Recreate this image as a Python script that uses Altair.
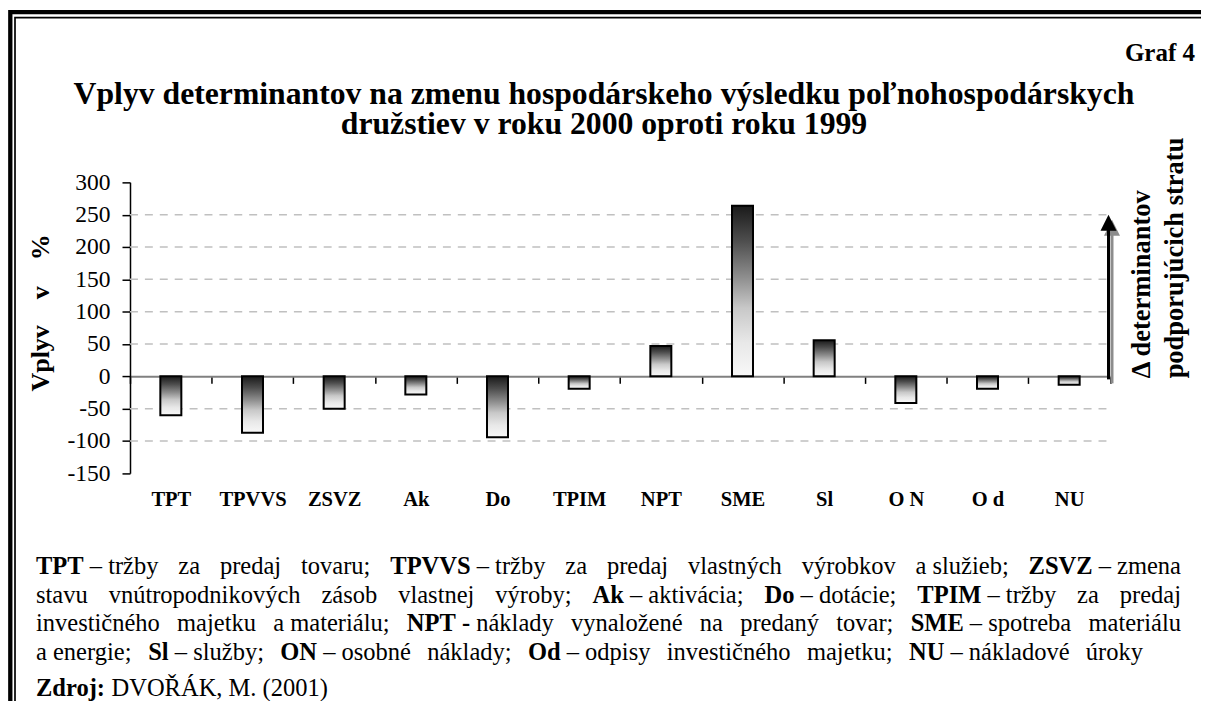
import altair as alt
import pandas as pd

# ---------------- data ----------------
categories = ["TPT", "TPVVS", "ZSVZ", "Ak", "Do", "TPIM", "NPT", "SME", "Sl", "O N", "O d", "NU"]
values = [-60, -87, -50, -28, -94, -19, 47, 264, 56, -41, -19, -13]
y_ticks = [300, 250, 200, 150, 100, 50, 0, -50, -100, -150]
grid_values = [250, 200, 150, 100, 50, -50, -100]
y_domain = [-150, 300]
arrow_from = [0]
arrow_to = [250]

title_lines = [
    "Vplyv determinantov na zmenu hospodárskeho výsledku poľnohospodárskych",
    "družstiev v roku 2000 oproti roku 1999",
]
graf_label = "Graf 4"
NB = "\u00a0"
y_title = f"Vplyv{NB * 4}v{NB * 4}%"
side_lines = ["\u0394 determinantov", "podporujúcich stratu"]
note_lines = [
    f"**TPT**{NB}–{NB}tržby za predaj tovaru; **TPVVS**{NB}–{NB}tržby za predaj vlastných výrobkov a{NB}služieb; **ZSVZ**{NB}–{NB}zmena",
    f"stavu vnútropodnikových zásob vlastnej výroby; **Ak**{NB}–{NB}aktivácia; **Do**{NB}–{NB}dotácie; **TPIM**{NB}–{NB}tržby za predaj",
    f"investičného majetku a{NB}materiálu; **NPT{NB}-**{NB}náklady vynaložené na predaný tovar; **SME**{NB}–{NB}spotreba materiálu",
    f"a{NB}energie; **Sl**{NB}–{NB}služby; **ON**{NB}–{NB}osobné náklady; **Od**{NB}–{NB}odpisy investičného majetku; **NU**{NB}–{NB}nákladové úroky",
]
source_line = f"**Zdroj:**{NB}DVOŘÁK, M. (2001)"

# ---------------- layout ----------------
# The page shrinks the 1201px wide svg into 1193px; work in page pixels and convert.
SERIF = "Liberation Serif"
SC = 1193 / 1201
SVG_W, SVG_H = 1201, 712
PAGE_X0, PAGE_Y0 = 130, 180            # page position of the plot area
PAGE_W, PAGE_H = 980, 291
PAD_L = (PAGE_X0 - 8) / SC
PAD_T = (PAGE_Y0 - 8) / SC
W = PAGE_W / SC
H = PAGE_H / SC
PAD = {"left": PAD_L, "top": PAD_T, "right": SVG_W - PAD_L - W, "bottom": SVG_H - PAD_T - H}


def sx(x):
    return (x - 8) / SC - PAD_L


def sy(y):
    return (y - 8) / SC - PAD_T


def fs(v):
    return v / SC


# Times / Liberation Serif advance widths (1/1000 em)
REG = {' ': 250, NB: 250, 'a': 444, 'b': 500, 'c': 444, 'd': 500, 'e': 444, 'f': 333, 'g': 500,
       'h': 500, 'i': 278, 'j': 278, 'k': 500, 'l': 278, 'm': 778, 'n': 500, 'o': 500, 'p': 500,
       'r': 333, 's': 389, 't': 278, 'u': 500, 'v': 500, 'y': 500, 'z': 444, 'á': 444, 'é': 444,
       'í': 278, 'ó': 500, 'ú': 500, 'ý': 500, 'č': 444, 'ž': 444, 'š': 389, ';': 278, ':': 278,
       ',': 250, '.': 250, '(': 333, ')': 333, '–': 500, '-': 333, 'D': 722, 'V': 722, 'O': 722,
       'Ř': 667, 'Á': 722, 'K': 722, 'M': 889, '0': 500, '1': 500, '2': 500}
BOLD = {' ': 250, NB: 250, 'T': 667, 'P': 611, 'V': 722, 'S': 556, 'Z': 667, 'A': 722, 'k': 556,
        'D': 722, 'o': 500, 'I': 389, 'M': 944, 'N': 722, 'E': 667, 'l': 278, 'O': 778, 'd': 556,
        'U': 722, 'r': 444, 'j': 333, ':': 333, '–': 500, '-': 333}

NOTE_FS = 24.5
NOTE_LEFT = 36
NOTE_RIGHTS = [1181, 1181, 1181, 1143]      # justified right edges of the note lines
NOTE_BASELINES = [572, 600.5, 629, 657.5]
SOURCE_BASELINE = 694


def text_width(s, bold):
    tab = BOLD if bold else REG
    return sum(tab.get(ch, 500) for ch in s) * NOTE_FS / 1000.0


def parse(unit):
    parts = unit.split("**")
    return [(p, i % 2 == 1) for i, p in enumerate(parts) if p]


def layout_line(line, baseline, right=None):
    units = [parse(u) for u in line.split(" ")]
    widths = [sum(text_width(t, b) for t, b in runs) for runs in units]
    gap = 250 * NOTE_FS / 1000.0
    if right is not None and len(units) > 1:
        gap = (right - NOTE_LEFT - sum(widths)) / (len(units) - 1)
    rows = []
    x = NOTE_LEFT
    for runs, w in zip(units, widths):
        xx = x
        for t, b in runs:
            stripped = t.lstrip(NB + " ")
            lead = text_width(t[:len(t) - len(stripped)], b)
            body = stripped.rstrip(NB + " ")
            if body:
                rows.append({"text": body.replace(" ", NB), "x": sx(xx + lead), "y": sy(baseline), "bold": b})
            xx += text_width(t, b)
        x += w + gap
    return rows


note_rows = []
for i, line in enumerate(note_lines):
    note_rows += layout_line(line, NOTE_BASELINES[i], NOTE_RIGHTS[i])
note_rows += layout_line(source_line, SOURCE_BASELINE)
notes = pd.DataFrame(note_rows)
notes_reg = notes[~notes["bold"]]
notes_bold = notes[notes["bold"]]

# ---------------- chart ----------------
bars_df = pd.DataFrame({"cat": categories, "val": values})
grid_df = pd.DataFrame({"g": grid_values})
arrow_df = pd.DataFrame({"y0": arrow_from, "y1": arrow_to})
one = pd.DataFrame({"k": [0]})

y_scale = alt.Scale(domain=y_domain, nice=False, zero=False)
ZERO_OFFSET = -H * (0 - y_domain[0]) / (y_domain[1] - y_domain[0])   # axis moved up to y = 0
X_TICK = fs(7)
X_LABEL_PAD = sy(487.5) - (H + ZERO_OFFSET) - X_TICK

gradient = alt.LinearGradient(
    gradient="linear", x1=0, y1=0, x2=0, y2=1,
    stops=[alt.GradientStop(offset=0, color="#1a1a1a"),
           alt.GradientStop(offset=0.2, color="#4c4c4c"),
           alt.GradientStop(offset=0.42, color="#8e8e8e"),
           alt.GradientStop(offset=0.6, color="#c8c8c8"),
           alt.GradientStop(offset=0.8, color="#e8e8e8"),
           alt.GradientStop(offset=1, color="#f8f8f8")])

frame_outer = alt.Chart(one).mark_rect(fillOpacity=0, stroke="black", strokeWidth=fs(4.3)).encode(
    x=alt.value(sx(10.3)), x2=alt.value(sx(1209.3)), y=alt.value(sy(9.7)), y2=alt.value(sy(780)))
frame_inner = alt.Chart(one).mark_rect(fillOpacity=0, stroke="black", strokeWidth=fs(1.7)).encode(
    x=alt.value(sx(15)), x2=alt.value(sx(1204)), y=alt.value(sy(15.2)), y2=alt.value(sy(780)))

grid = alt.Chart(grid_df).mark_rule(color="#c0c0c0", strokeWidth=fs(1.5), strokeDash=[8, 7]).encode(
    x=alt.value(0), x2=alt.value(W), y=alt.Y("g:Q", scale=y_scale))

bars = alt.Chart(bars_df).mark_bar(fill=gradient, stroke="black", strokeWidth=fs(2), size=fs(21)).encode(
    x=alt.X("cat:N", sort=categories, title=None,
            scale=alt.Scale(paddingInner=0, paddingOuter=0),
            axis=alt.Axis(orient="bottom", offset=ZERO_OFFSET, domainColor="#808080", domainWidth=fs(2),
                          tickColor="black", tickWidth=fs(1.5), tickSize=X_TICK, tickBand="extent",
                          labelFont=SERIF, labelFontWeight="bold", labelFontSize=fs(20.5),
                          labelColor="black", labelAngle=0, labelPadding=X_LABEL_PAD,
                          labelOverlap=False, grid=False)),
    y=alt.Y("val:Q", scale=y_scale,
            axis=alt.Axis(values=y_ticks, tickCount=len(y_ticks) + 2,
                          labelExpr="'' + datum.value",
                          labelFont=SERIF, labelFontSize=fs(23.5),
                          labelColor="black", labelPadding=fs(12), labelOverlap=False,
                          tickSize=fs(8), tickColor="black", tickWidth=fs(1.5),
                          domainColor="black", domainWidth=fs(1.5), grid=False,
                          title=y_title, titleFont=SERIF, titleFontSize=fs(26), titleFontWeight="bold",
                          titleColor="black", titleAngle=270, titleX=sx(41), titleY=sy(310),
                          titleAlign="center", titleBaseline="middle")),
)

ARROW_X = sx(1108.5)
shadow_shaft = alt.Chart(arrow_df).mark_rule(color="#8c8c8c", strokeWidth=fs(3), xOffset=fs(3.5),
                                             yOffset=fs(7), y2Offset=fs(14)).encode(
    x=alt.value(ARROW_X), y=alt.Y("y0:Q", scale=y_scale), y2="y1:Q")
shadow_head = alt.Chart(arrow_df).mark_point(shape="M0,-1L1,1L-1,1Z", filled=True, size=fs(16) ** 2,
                                             color="#8c8c8c", opacity=1, xOffset=fs(3.5), yOffset=fs(13)).encode(
    x=alt.value(ARROW_X), y=alt.Y("y1:Q", scale=y_scale))
shaft = alt.Chart(arrow_df).mark_rule(color="black", strokeWidth=fs(3), yOffset=fs(3), y2Offset=fs(10)).encode(
    x=alt.value(ARROW_X), y=alt.Y("y0:Q", scale=y_scale), y2="y1:Q")
head = alt.Chart(arrow_df).mark_point(shape="M0,-1L1,1L-1,1Z", filled=True, size=fs(16) ** 2,
                                      color="black", opacity=1, yOffset=fs(8)).encode(
    x=alt.value(ARROW_X), y=alt.Y("y1:Q", scale=y_scale))

title_df = pd.DataFrame({"text": title_lines, "x": [sx(604)] * 2, "y": [sy(101.7), sy(131.7)]})
title = alt.Chart(title_df).mark_text(font=SERIF, fontSize=fs(31.7), fontWeight="bold", color="black",
                                      align="center", baseline="alphabetic").encode(
    x=alt.X("x:Q", scale=None, axis=None), y=alt.Y("y:Q", scale=None, axis=None), text="text:N")

graf_df = pd.DataFrame({"text": [graf_label], "x": [sx(1195)], "y": [sy(58.3)]})
graf = alt.Chart(graf_df).mark_text(font=SERIF, fontSize=fs(25), fontWeight="bold", color="black",
                                    align="right", baseline="alphabetic").encode(
    x=alt.X("x:Q", scale=None, axis=None), y=alt.Y("y:Q", scale=None, axis=None), text="text:N")

side_df = pd.DataFrame({"text": side_lines, "x": [sx(1142), sx(1175)], "y": [sy(376), sy(376)]})
side = alt.Chart(side_df).mark_text(font=SERIF, fontSize=fs(26.5), fontWeight="bold", color="black",
                                    align="left", baseline="middle", angle=270).encode(
    x=alt.X("x:Q", scale=None, axis=None), y=alt.Y("y:Q", scale=None, axis=None), text="text:N")

notes_r = alt.Chart(notes_reg).mark_text(font=SERIF, fontSize=fs(NOTE_FS), color="black",
                                         align="left", baseline="alphabetic").encode(
    x=alt.X("x:Q", scale=None, axis=None), y=alt.Y("y:Q", scale=None, axis=None), text="text:N")
notes_b = alt.Chart(notes_bold).mark_text(font=SERIF, fontSize=fs(NOTE_FS), fontWeight="bold", color="black",
                                          align="left", baseline="alphabetic").encode(
    x=alt.X("x:Q", scale=None, axis=None), y=alt.Y("y:Q", scale=None, axis=None), text="text:N")

chart = alt.layer(
    frame_outer, frame_inner, grid, bars, shadow_shaft, shadow_head, shaft, head,
    title, graf, side, notes_r, notes_b,
).properties(
    width=W, height=H,
    autosize=alt.AutoSizeParams(type="none"),
    padding=PAD,
    background="white",
).configure_view(stroke=None)

chart.save("out.html", embed_options={"renderer": "svg", "actions": False})
